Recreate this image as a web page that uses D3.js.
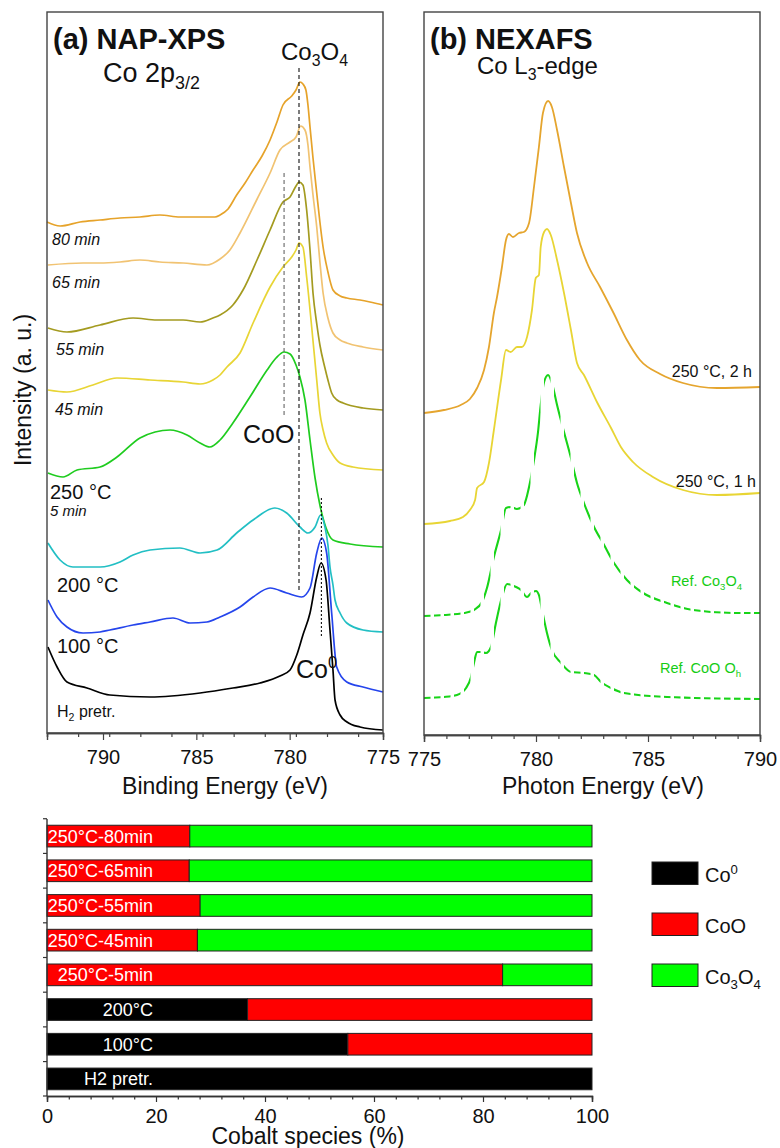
<!DOCTYPE html>
<html><head><meta charset="utf-8">
<script src="https://cdn.jsdelivr.net/npm/d3@7"></script>
<style>body{margin:0;background:#fff} text{font-family:"Liberation Sans",Arial,Helvetica,sans-serif;fill:#111}</style>
</head><body><svg id="c" width="780" height="1148"></svg>
<script>
// ---------- Panel (a) NAP-XPS Co 2p3/2 : [binding energy eV, intensity a.u. (stacked)] ----------
const xps80min = [[793.00,511],[792.30,507],[791.23,511],[790.16,513],[789.09,515],[788.02,516],[786.95,518],[785.88,516],[784.80,516],[784.00,516],[783.73,518],[783.30,524],[782.84,538],[782.39,550],[781.96,563],[781.48,577],[781.05,593],[780.68,611],[780.36,628],[779.89,637],[779.66,643],[779.45,651],[779.29,649],[779.13,643],[779.02,628],[778.91,606],[778.75,575],[778.55,540],[778.38,511],[778.21,486],[777.95,461],[777.68,443],[777.30,437],[776.94,435],[776.23,433],[775.70,431],[775.00,428]];
const xps65min = [[792.95,468],[791.07,470],[790.16,470],[789.09,471],[788.02,473],[786.95,471],[785.71,470],[784.43,468],[783.73,474],[783.20,483],[782.66,500],[781.77,533],[781.05,560],[780.52,583],[779.98,591],[779.66,596],[779.41,607],[779.18,603],[779.02,588],[778.91,566],[778.75,538],[778.55,506],[778.38,471],[778.21,440],[777.95,415],[777.68,400],[777.30,393],[776.94,390],[776.07,386],[775.00,383]];
const xps55min = [[792.95,405],[791.93,401],[790.16,408],[788.39,415],[787.11,413],[785.71,413],[784.80,411],[784.11,415],[783.73,418],[783.04,428],[782.50,443],[781.75,473],[781.05,503],[780.36,531],[779.98,536],[779.66,547],[779.50,551],[779.29,548],[779.09,523],[778.91,483],[778.75,440],[778.54,408],[778.38,388],[778.11,365],[777.95,353],[777.75,340],[777.46,333],[777.14,330],[776.07,325],[775.00,323]];
const xps45min = [[792.95,343],[791.93,341],[790.54,348],[789.25,355],[787.48,353],[785.71,351],[784.80,349],[784.11,353],[783.73,358],[783.36,366],[782.66,380],[781.96,410],[781.05,446],[780.36,466],[779.89,476],[779.66,483],[779.50,490],[779.29,486],[779.09,456],[778.82,406],[778.55,353],[778.38,320],[778.21,303],[778.02,290],[777.68,278],[777.30,270],[776.61,266],[775.00,263]];
const xps250C5min = [[792.95,260],[792.14,256],[791.39,263],[790.16,266],[789.25,276],[788.02,295],[787.21,301],[786.41,303],[785.50,298],[784.80,290],[784.27,286],[783.73,293],[783.04,310],[782.13,336],[781.21,363],[780.73,375],[780.30,381],[779.98,379],[779.66,368],[779.45,356],[779.18,333],[778.91,293],[778.64,255],[778.38,228],[778.05,205],[777.68,193],[776.77,189],[775.00,186]];
const xps200C = [[792.95,190],[792.30,173],[791.61,166],[790.16,166],[789.09,171],[788.39,178],[787.48,183],[785.88,185],[784.80,180],[783.89,183],[782.84,200],[781.96,213],[780.79,225],[780.16,220],[779.45,206],[779.02,200],[778.64,206],[778.34,218],[778.11,206],[777.95,188],[777.84,166],[777.68,148],[777.57,133],[777.30,120],[776.94,110],[776.07,103],[775.00,101]];
const xps100C = [[792.95,133],[792.46,116],[791.93,106],[791.07,100],[790.16,101],[789.63,103],[788.39,108],[787.48,111],[786.25,115],[785.34,110],[784.43,111],[783.73,116],[782.66,126],[781.96,136],[781.05,145],[780.16,140],[779.36,136],[778.91,145],[778.55,180],[778.28,195],[778.02,180],[777.75,120],[777.48,66],[776.94,51],[776.07,46],[775.00,41]];
const xpsH2 = [[792.95,86],[792.46,66],[791.93,51],[790.86,45],[789.63,38],[787.48,36],[784.80,40],[783.04,45],[781.59,50],[780.52,57],[779.98,63],[779.62,78],[779.29,98],[778.91,120],[778.55,156],[778.32,170],[778.05,153],[777.84,103],[777.68,63],[777.57,33],[777.30,18],[776.93,11],[776.23,6],[775.00,3]];
const xpsSeriesNames = ["80 min","65 min","55 min","45 min","250 °C 5 min","200 °C","100 °C","H2 pretr."];
const xpsColors = ["#E6A32A","#F1C372","#A49B20","#E8D535","#1FCC1F","#22BFC4","#2545EC","#000000"];
// reference peak positions (eV) and extents (intensity)
const refLinesA = [
  {name:"Co3O4", e:779.5, from:665, to:140, dash:"4,3", color:"#111"},
  {name:"CoO",   e:780.3, from:560, to:316, dash:"4,3", color:"#666"},
  {name:"Co0",   e:778.3, from:235, to:96,  dash:"2,2", color:"#111"}
];
const xpsTicks = [790,785,780,775];

// ---------- Panel (b) NEXAFS Co L3-edge : [photon energy eV, intensity a.u. (stacked)] ----------
const nex2h = [[775.00,322],[775.89,325],[776.64,330],[777.05,336],[777.37,347],[777.68,365],[777.90,388],[778.12,422],[778.26,438],[778.48,468],[778.66,495],[778.79,501],[778.97,498],[779.24,502],[779.46,503],[779.69,512],[779.91,548],[780.13,588],[780.31,622],[780.54,634],[780.71,628],[780.94,605],[781.25,568],[781.56,532],[781.83,502],[782.28,472],[782.86,448],[783.44,423],[784.06,395],[784.64,375],[785.54,361],[786.56,352],[788.08,347],[790.00,348]];
const nex1h = [[775.00,211],[776.16,214],[776.74,218],[777.05,225],[777.28,235],[777.37,247],[777.68,253],[777.90,272],[778.12,305],[778.44,355],[778.66,385],[778.87,383],[779.15,388],[779.37,388],[779.60,398],[779.82,425],[779.99,457],[780.13,460],[780.21,488],[780.36,503],[780.49,506],[780.66,500],[780.94,475],[781.25,442],[781.56,405],[781.83,372],[782.14,360],[782.72,333],[783.35,307],[783.79,288],[784.33,273],[785.22,258],[786.56,245],[788.08,240],[790.00,242]];
const nexRefCo3O4 = [[775.00,119],[775.89,120],[776.79,122],[777.23,125],[777.59,133],[777.81,147],[778.12,178],[778.44,205],[778.66,227],[778.88,228],[779.15,226],[779.46,230],[779.69,248],[779.91,275],[780.09,303],[780.21,330],[780.36,353],[780.54,360],[780.71,352],[780.94,330],[781.25,303],[781.55,278],[781.83,252],[782.14,232],[782.59,208],[783.04,190],[783.48,172],[784.06,155],[784.78,142],[785.85,132],[787.01,125],[788.79,122],[790.00,122]];
const nexRefCoO = [[775.00,37],[775.89,38],[776.47,40],[776.88,47],[777.10,58],[777.23,72],[777.37,83],[777.54,83],[777.77,82],[777.99,88],[778.21,112],[778.48,138],[778.71,151],[779.11,148],[779.33,145],[779.60,138],[779.78,142],[780.00,144],[780.13,140],[780.27,125],[780.49,102],[780.71,85],[781.12,72],[781.56,63],[782.14,62],[782.59,60],[782.90,53],[783.35,47],[783.93,42],[785.85,38],[790.00,36]];
const nexColors = ["#E5A52E","#E8D534","#18D418","#18D418"];
const nexTicks = [775,780,785,790];

// ---------- Bar chart: cobalt species (%) ----------
const barCategories = ["250°C-80min","250°C-65min","250°C-55min","250°C-45min","250°C-5min","200°C","100°C","H2 pretr."];
const pctCo0   = [0,0,0,0,0,36.8,55.2,100];
const pctCoO   = [26.2,26.1,28.1,27.6,83.6,63.2,44.8,0];
const pctCo3O4 = [73.8,73.9,71.9,72.4,16.4,0,0,0];
const speciesKeys = ["Co0","CoO","Co3O4"];
const speciesColors = ["#000000","#FF0000","#00FF00"];
const pctTicks = [0,20,40,60,80,100];

// ================= drawing =================
const svg = d3.select("#c");
const FONT = '"Liberation Sans",Arial,Helvetica,sans-serif';

function rich(g, x, y, parts, size, opts={}) {
  const t = g.append("text").attr("x", x).attr("y", y).attr("font-size", size)
    .attr("text-anchor", opts.anchor || "start");
  if (opts.weight) t.attr("font-weight", opts.weight);
  if (opts.italic) t.attr("font-style", "italic");
  if (opts.fill) t.style("fill", opts.fill);
  let shift = 0;
  parts.forEach(p => {
    const s = typeof p === "string" ? {t:p} : p;
    let target = 0, fs = size;
    if (s.sub) { target = size*0.27; fs = size*0.66; }
    if (s.sup) { target = -size*0.4; fs = size*0.66; }
    t.append("tspan").attr("dy", target - shift).attr("font-size", fs).text(s.t);
    shift = target;
  });
  return t;
}

// ---- Panel a ----
const A = {l:47, r:383, t:12, b:733};
const xA = d3.scaleLinear().domain([793,775]).range([A.l, A.r]);
const yA = d3.scaleLinear().domain([0,721]).range([A.b, A.t]);
const gA = svg.append("g");
const lineA = d3.line().x(d => xA(d[0])).y(d => yA(d[1])).curve(d3.curveMonotoneX);
const xpsAll = [xps80min, xps65min, xps55min, xps45min, xps250C5min, xps200C, xps100C, xpsH2];
xpsAll.forEach((s,i) => {
  gA.append("path").attr("d", lineA(s)).attr("fill","none")
    .attr("stroke", xpsColors[i]).attr("stroke-width", 1.7).attr("stroke-linejoin","round");
});
refLinesA.forEach(r => {
  gA.append("line").attr("x1", xA(r.e)).attr("x2", xA(r.e))
    .attr("y1", yA(r.from)).attr("y2", yA(r.to))
    .attr("stroke", r.color).attr("stroke-width", 1.1).attr("stroke-dasharray", r.dash);
});
// frame
gA.append("rect").attr("x",A.l).attr("y",A.t).attr("width",A.r-A.l).attr("height",A.b-A.t)
  .attr("fill","none").attr("stroke","#444").attr("stroke-width",1.4);
// axis
gA.append("g").attr("transform",`translate(0,${A.b})`)
  .call(d3.axisBottom(xA).tickValues(xpsTicks).tickSize(7).tickPadding(10).tickFormat(d3.format("d")));
const minorA = d3.range(0,19).map(i => 793 - i*5/3).filter(v => v<=793 && v>=775 && !xpsTicks.some(t=>Math.abs(t-v)<0.01));
gA.append("g").attr("transform",`translate(0,${A.b})`)
  .call(d3.axisBottom(xA).tickValues(minorA).tickSize(4).tickFormat(""));
// labels
rich(gA, 53, 49, ["(a) NAP-XPS"], 29, {weight:"bold"});
rich(gA, 103, 82, ["Co 2p", {t:"3/2", sub:true}], 27);
rich(gA, 281, 60, ["Co", {t:"3",sub:true}, "O", {t:"4",sub:true}], 24);
rich(gA, 243, 443, ["CoO"], 25);
rich(gA, 296, 678, ["Co", {t:"0",sup:true}], 25);
rich(gA, 52, 245, ["80 min"], 16, {italic:true});
rich(gA, 52, 288, ["65 min"], 16, {italic:true});
rich(gA, 56, 355, ["55 min"], 16, {italic:true});
rich(gA, 55, 415, ["45 min"], 16, {italic:true});
rich(gA, 50, 499, ["250 °C"], 20);
rich(gA, 50, 516, ["5 min"], 15, {italic:true});
rich(gA, 57, 592, ["200 °C"], 20);
rich(gA, 57, 653, ["100 °C"], 20);
rich(gA, 57, 717, ["H", {t:"2",sub:true}, " pretr."], 16);
gA.append("text").attr("x",225).attr("y",794).attr("text-anchor","middle").attr("font-size",23).text("Binding Energy (eV)");
gA.append("text").attr("transform","translate(31,390) rotate(-90)").attr("text-anchor","middle").attr("font-size",23).text("Intensity (a. u.)");

// ---- Panel b ----
const B = {l:424, r:760, t:12, b:735};
const xB = d3.scaleLinear().domain([775,790]).range([B.l, B.r]);
const yB = d3.scaleLinear().domain([0,723]).range([B.b, B.t]);
const gB = svg.append("g");
const lineB = d3.line().x(d => xB(d[0])).y(d => yB(d[1])).curve(d3.curveMonotoneX);
// dash emulation: dashes of fixed energy width
const clip = svg.append("defs").append("clipPath").attr("id","dashB");
d3.range(B.l, B.r, 10).forEach(x0 => {
  clip.append("rect").attr("x", x0).attr("y", B.t).attr("width", 6.5).attr("height", B.b-B.t);
});
[nex2h, nex1h].forEach((s,i) => {
  gB.append("path").attr("d", lineB(s)).attr("fill","none")
    .attr("stroke", nexColors[i]).attr("stroke-width", 1.8);
});
[nexRefCo3O4, nexRefCoO].forEach((s,i) => {
  gB.append("path").attr("d", lineB(s)).attr("fill","none").attr("clip-path","url(#dashB)")
    .attr("stroke", nexColors[i+2]).attr("stroke-width", 2.1);
});
gB.append("rect").attr("x",B.l).attr("y",B.t).attr("width",B.r-B.l).attr("height",B.b-B.t)
  .attr("fill","none").attr("stroke","#444").attr("stroke-width",1.4);
gB.append("g").attr("transform",`translate(0,${B.b})`)
  .call(d3.axisBottom(xB).tickValues(nexTicks).tickSize(7).tickPadding(10).tickFormat(d3.format("d")));
const minorB = d3.range(775,791,1).filter(v => !nexTicks.includes(v));
gB.append("g").attr("transform",`translate(0,${B.b})`)
  .call(d3.axisBottom(xB).tickValues(minorB).tickSize(4).tickFormat(""));
rich(gB, 430, 49, ["(b) NEXAFS"], 29, {weight:"bold"});
rich(gB, 477, 74, ["Co L", {t:"3",sub:true}, "-edge"], 24);
rich(gB, 752, 377, ["250 °C, 2 h"], 16, {anchor:"end"});
rich(gB, 756, 487, ["250 °C, 1 h"], 16, {anchor:"end"});
rich(gB, 742, 586, ["Ref. Co", {t:"3",sub:true}, "O", {t:"4",sub:true}], 14.5, {anchor:"end", fill:"#15CC15"});
rich(gB, 741, 673, ["Ref. CoO O", {t:"h",sub:true}], 14.5, {anchor:"end", fill:"#15CC15"});
gB.append("text").attr("x",603).attr("y",794).attr("text-anchor","middle").attr("font-size",23).text("Photon Energy (eV)");

// style axes
svg.selectAll(".tick text").attr("font-size",20).attr("font-family",FONT).style("fill","#111");
svg.selectAll(".domain").attr("stroke","#444").attr("stroke-width",1.4);
svg.selectAll(".tick line").attr("stroke","#444").attr("stroke-width",1.2);

// ---- Bar chart ----
const C = {l:47, r:592, t:819, b:1096};
const xC = d3.scaleLinear().domain([0,100]).range([C.l, C.r]);
const yC = d3.scaleBand().domain(barCategories).range([C.t, C.b]).paddingInner(0.375).paddingOuter(0.18);
const rows = barCategories.map((c,i) => ({cat:c, Co0:pctCo0[i], CoO:pctCoO[i], Co3O4:pctCo3O4[i]}));
const stacked = d3.stack().keys(speciesKeys)(rows);
const gC = svg.append("g");
stacked.forEach((layer, li) => {
  gC.selectAll(null).data(layer.filter(d => d[1]-d[0] > 0)).enter().append("rect")
    .attr("x", d => xC(d[0])).attr("width", d => xC(d[1]) - xC(d[0]))
    .attr("y", d => yC(d.data.cat)).attr("height", yC.bandwidth())
    .attr("fill", speciesColors[li]).attr("stroke","#222").attr("stroke-width",1);
});
gC.selectAll(null).data(barCategories).enter().append("text")
  .attr("x", 153).attr("y", d => yC(d) + yC.bandwidth()/2 + 6.5)
  .attr("text-anchor","end").attr("font-size",18).style("fill","#fff").text(d => d);
// axes
const gap = (yC.step() - yC.bandwidth())/2;
const leftTicks = barCategories.map(c => yC(c) - gap).concat([C.b]);
gC.append("line").attr("x1",C.l).attr("x2",C.l).attr("y1",C.t).attr("y2",C.b).attr("stroke","#333").attr("stroke-width",1.4);
gC.selectAll(null).data(leftTicks).enter().append("line")
  .attr("x1",C.l-4).attr("x2",C.l).attr("y1",d=>d).attr("y2",d=>d).attr("stroke","#333").attr("stroke-width",1.2);
gC.append("g").attr("transform",`translate(0,${C.b})`)
  .call(d3.axisBottom(xC).tickValues(pctTicks).tickSize(6).tickPadding(7).tickFormat(d3.format("d")));
gC.append("g").attr("transform",`translate(0,${C.b})`)
  .call(d3.axisBottom(xC).tickValues(d3.range(0,101,4).filter(v=>v%20!==0)).tickSize(3.5).tickFormat(""));
gC.selectAll(".tick text").attr("font-size",20).attr("font-family",FONT).style("fill","#111");
gC.selectAll(".domain").attr("stroke","#333").attr("stroke-width",1.4);
gC.selectAll(".tick line").attr("stroke","#333").attr("stroke-width",1.2);
gC.append("text").attr("x",308).attr("y",1144).attr("text-anchor","middle").attr("font-size",23).text("Cobalt species (%)");
// legend
const legY = [862, 913, 964];
const legLabels = [["Co",{t:"0",sup:true}],["CoO"],["Co",{t:"3",sub:true},"O",{t:"4",sub:true}]];
speciesKeys.forEach((k,i) => {
  gC.append("rect").attr("x",652).attr("y",legY[i]).attr("width",46).attr("height",22.5)
    .attr("fill",speciesColors[i]).attr("stroke","#222").attr("stroke-width",1);
  rich(gC, 705, legY[i]+19.5, legLabels[i], 20);
});
</script></body></html>
